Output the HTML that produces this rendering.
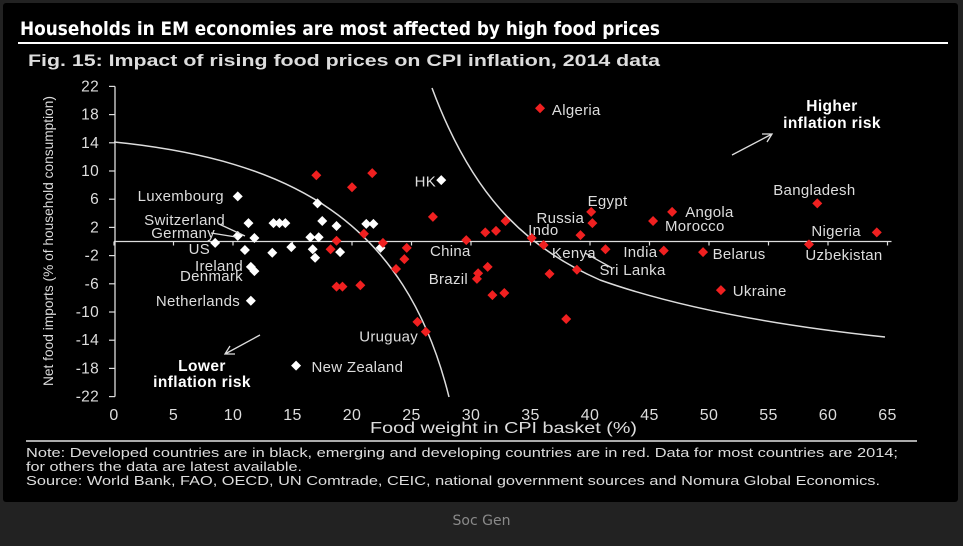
<!DOCTYPE html>
<html><head><meta charset="utf-8"><style>
html,body{margin:0;padding:0;background:#222;width:963px;height:546px;overflow:hidden;font-family:"Liberation Sans",sans-serif}
#panel{position:absolute;left:3px;top:3px;width:955px;height:499px;background:#000;border-radius:3px}
#foot{position:absolute;left:0;top:513px;width:963px;text-align:center;color:#8a8a8a;font-size:14px;font-family:"DejaVu Sans","Liberation Sans",sans-serif}
</style></head><body>
<div id="panel"></div>
<svg id="chart" width="963" height="546" style="position:absolute;left:0;top:0">
<text x="20" y="35" fill="#fff" font-size="19" font-weight="bold" textLength="640" lengthAdjust="spacingAndGlyphs" font-family="DejaVu Sans Condensed, DejaVu Sans, sans-serif">Households in EM economies are most affected by high food prices</text>
<line x1="18" y1="43" x2="948" y2="43" stroke="#fff" stroke-width="2"/>
<text x="28" y="66" fill="#ddd" font-size="17" font-weight="bold" textLength="632" lengthAdjust="spacingAndGlyphs">Fig. 15: Impact of rising food prices on CPI inflation, 2014 data</text>
<text transform="translate(53,241) rotate(-90)" text-anchor="middle" fill="#ddd" font-size="14" textLength="290" lengthAdjust="spacingAndGlyphs">Net food imports (% of household consumption)</text>
<text x="370" y="433" fill="#ddd" font-size="16" textLength="267" lengthAdjust="spacingAndGlyphs">Food weight in CPI basket (%)</text>
<line x1="26" y1="441" x2="917" y2="441" stroke="#aaa" stroke-width="2"/>
<text x="26" y="457" fill="#ddd" font-size="12.5" textLength="872" lengthAdjust="spacingAndGlyphs">Note: Developed countries are in black, emerging and developing countries are in red. Data for most countries are 2014;</text>
<text x="26" y="471" fill="#ddd" font-size="12.5" textLength="276" lengthAdjust="spacingAndGlyphs">for others the data are latest available.</text>
<text x="26" y="485" fill="#ddd" font-size="12.5" textLength="854" lengthAdjust="spacingAndGlyphs">Source: World Bank, FAO, OECD, UN Comtrade, CEIC, national government sources and Nomura Global Economics.</text>
<g id="axes"></g><g id="curves"></g><g id="marks"></g><g id="labels"></g>
<text x="832" y="111" text-anchor="middle" fill="#fff" font-size="15.5" font-weight="bold" letter-spacing="0.4">Higher</text>
<text x="832" y="128" text-anchor="middle" fill="#fff" font-size="15.5" font-weight="bold" letter-spacing="0.4">inflation risk</text>
<text x="202" y="371" text-anchor="middle" fill="#fff" font-size="15.5" font-weight="bold" letter-spacing="0.4">Lower</text>
<text x="202" y="387" text-anchor="middle" fill="#fff" font-size="15.5" font-weight="bold" letter-spacing="0.4">inflation risk</text>
<g stroke="#ddd" stroke-width="1.3" fill="none">
<path d="M732,155 L772,134 M762,134 L772,134 L767,142"/>
<path d="M260,335 L225,354 M235,354 L225,354 L230,346"/>
<path d="M211,233 L236,237 M219,224 L245,236 M585,253 L612,268"/>
</g>
</svg>
<div id="foot">Soc Gen</div>
<script>
const xTicks=[0,5,10,15,20,25,30,35,40,45,50,55,60,65];
const yTicks=[22,18,14,10,6,2,-2,-6,-10,-14,-18,-22];
const devX=[10.4,27.5,15.3,11.5,11.5,11.8,10.4,11.3,8.5,13.4,13.9,14.4,11.8,16.5,17.2,17.1,17.5,18.7,21.2,21.8,11.0,13.3,14.9,16.7,16.9,19.0,22.4];
const devY=[6.4,8.7,-17.6,-8.4,-3.6,-4.2,0.8,2.6,-0.2,2.6,2.6,2.6,0.5,0.6,0.6,5.4,2.9,2.2,2.5,2.5,-1.2,-1.6,-0.8,-1.1,-2.3,-1.5,-0.9];
const emX=[17.0,21.7,20.0,26.8,21.0,18.7,22.6,18.2,24.6,24.4,23.7,18.7,19.2,20.7,25.5,26.2,29.6,31.2,32.1,32.9,35.1,36.1,39.2,40.1,40.2,41.3,31.4,30.6,30.5,31.8,32.8,36.6,38.9,38.0,45.3,46.9,46.2,49.5,51.0,59.1,64.1,58.4,35.8];
const emY=[9.4,9.7,7.7,3.5,1.1,0.1,-0.2,-1.1,-0.9,-2.5,-3.9,-6.4,-6.4,-6.2,-11.4,-12.8,0.2,1.3,1.5,2.9,0.5,-0.5,0.9,4.2,2.6,-1.1,-3.6,-4.5,-5.3,-7.6,-7.3,-4.6,-4.0,-11.0,2.9,4.2,-1.3,-1.5,-6.9,5.4,1.3,-0.4,18.9];
const labelText=["Luxembourg","HK","New Zealand","Netherlands","Ireland","Denmark","Germany","Switzerland","US","Uruguay","China","Indo","Russia","Egypt","Kenya","Brazil","Sri Lanka","India","Morocco","Angola","Belarus","Ukraine","Bangladesh","Nigeria","Uzbekistan","Algeria"];
const labelX=[9.24,27.06,16.6,10.59,10.84,10.84,8.49,9.33,8.07,25.55,26.55,34.8,35.5,39.8,36.8,29.75,40.8,42.8,46.3,48.0,50.3,52.0,55.4,58.6,58.1,36.8];
const labelY=[6.45,8.5,-17.8,-8.44,-3.48,-4.89,1.2,3.05,-1.06,-13.5,-1.35,1.63,3.33,5.74,-1.63,-5.3,-4.04,-1.49,2.2,4.18,-1.77,-7.02,7.3,1.49,-1.91,18.65];
const labelAnchor=["end","end","start","end","end","end","end","end","end","end","start","start","start","start","start","end","start","start","start","start","start","start","start","start","start","start"];
const X=v=>114+v*11.9, Y=v=>241.5-v*7.05;
const NS="http://www.w3.org/2000/svg";
function mk(t,a,p){const e=document.createElementNS(NS,t);for(const k in a)e.setAttribute(k,a[k]);p.appendChild(e);return e;}
const ax=document.getElementById('axes');
let e=mk('line',{x1:X(0)+1,y1:Y(22),x2:X(0)+1,y2:Y(-22),stroke:'#ddd','stroke-width':1.3},ax);


e=mk('line',{x1:X(0),y1:Y(0),x2:X(65)+4,y2:Y(0),stroke:'#ddd','stroke-width':1.3},ax);


yTicks.forEach(t=>{
 mk('line',{x1:X(0)-5,x2:X(0)+1,y1:Y(t),y2:Y(t),stroke:'#ddd','stroke-width':1.2},ax);
 const tx=mk('text',{x:X(0)-15,y:Y(t)+5,'text-anchor':'end',fill:'#ddd','font-size':15.5,'letter-spacing':0.3},ax);tx.textContent=t;
 
 
});
xTicks.forEach(t=>{
 mk('line',{x1:X(t),x2:X(t),y1:Y(0),y2:Y(0)+4,stroke:'#ddd','stroke-width':1.2},ax);
 const tx=mk('text',{x:X(t),y:420,'text-anchor':'middle',fill:'#ddd','font-size':16,'letter-spacing':0.3},ax);tx.textContent=t;
 
 
});
const cv=document.getElementById('curves');
e=mk('path',{d:'M114,142 C290,160 405,220 449,397',stroke:'#ddd','stroke-width':1.5,fill:'none'},cv);


e=mk('path',{d:'M432,88 C470,190 520,245 600,280 C690,312 800,328 885,337',stroke:'#ddd','stroke-width':1.5,fill:'none'},cv);


const mg=document.getElementById('marks');
function dia(x,y,c){const cx=X(x),cy=Y(y),r=5;return mk('polygon',{points:`${cx},${cy-r} ${cx+r},${cy} ${cx},${cy+r} ${cx-r},${cy}`,fill:c},mg);}
devX.forEach((v,i)=>{const d=dia(v,devY[i],'#fff');
 
 });
emX.forEach((v,i)=>{const d=dia(v,emY[i],'#f02020');
 
 });
const lg=document.getElementById('labels');
labelText.forEach((s,i)=>{const t=mk('text',{x:X(labelX[i]),y:Y(labelY[i])+5,'text-anchor':labelAnchor[i],fill:'#ddd','font-size':15,'letter-spacing':0.3},lg);t.textContent=s;
 
 });
</script>
</body></html>
